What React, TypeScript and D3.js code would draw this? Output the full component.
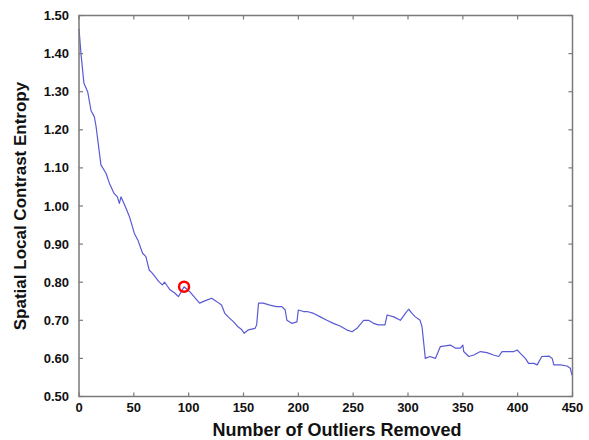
import React from "react";
import * as d3 from "d3";

const xValues = [0, 1.8, 4.5, 7.9, 11, 14, 15.5, 20, 24.6, 27.7, 32, 35, 36.8, 38.3, 42.9, 46, 50.5, 53.6, 58, 61, 64, 67, 73, 76, 78, 81, 83, 87.6, 90.6, 95.8, 101, 106, 110, 113, 116.5, 121, 125.7, 130, 133, 136, 141, 145, 148.5, 150.6, 154.5, 160.6, 162, 163.7, 168, 174, 180, 185, 188, 189.6, 194, 198.7, 200, 204.7, 208, 214, 220, 226, 232, 238, 244, 249, 253.5, 259.5, 264, 268.6, 273, 279, 281, 287, 293, 297.6, 300.6, 303.7, 306.7, 311, 312.8, 315.8, 320, 325, 329.5, 334, 338.6, 343, 347.8, 350, 350.8, 355.4, 360, 366, 372, 378, 382.7, 385.8, 391.9, 396.5, 399.5, 402.5, 407, 410, 414.7, 417.8, 422, 428.4, 431.5, 433, 439, 445, 448, 449.5];
const yValues = [1.465, 1.40, 1.322, 1.30, 1.25, 1.234, 1.21, 1.108, 1.086, 1.06, 1.033, 1.024, 1.007, 1.024, 0.994, 0.972, 0.928, 0.911, 0.876, 0.867, 0.832, 0.823, 0.801, 0.793, 0.80, 0.788, 0.78, 0.771, 0.762, 0.788, 0.775, 0.758, 0.745, 0.749, 0.753, 0.758, 0.749, 0.74, 0.718, 0.709, 0.696, 0.683, 0.675, 0.666, 0.675, 0.679, 0.688, 0.745, 0.745, 0.74, 0.736, 0.736, 0.727, 0.70, 0.692, 0.696, 0.727, 0.723, 0.723, 0.718, 0.709, 0.70, 0.692, 0.685, 0.675, 0.670, 0.679, 0.70, 0.70, 0.692, 0.688, 0.688, 0.714, 0.709, 0.70, 0.718, 0.729, 0.718, 0.709, 0.70, 0.683, 0.60, 0.605, 0.60, 0.631, 0.633, 0.635, 0.627, 0.627, 0.635, 0.618, 0.605, 0.609, 0.618, 0.615, 0.609, 0.605, 0.618, 0.618, 0.618, 0.622, 0.613, 0.60, 0.587, 0.587, 0.583, 0.605, 0.606, 0.60, 0.583, 0.583, 0.580, 0.574, 0.556];
const markerX = [95.8];
const markerY = [0.788];
const xTicks = [0, 50, 100, 150, 200, 250, 300, 350, 400, 450];
const yTicks = [0.5, 0.6, 0.7, 0.8, 0.9, 1.0, 1.1, 1.2, 1.3, 1.4, 1.5];
const xLabel = "Number of Outliers Removed";
const yLabel = "Spatial Local Contrast Entropy";

export default function App() {
  const W = 589, H = 440;
  const L = 79, R = 572.5, T = 15.5, B = 396.5;
  const x = d3.scaleLinear().domain([0, 450]).range([L, R]);
  const y = d3.scaleLinear().domain([0.5, 1.5]).range([B, T]);
  const pts = xValues.map((v, i) => [v, yValues[i]] as [number, number]);
  const line = d3.line<[number, number]>().x(d => x(d[0])).y(d => y(d[1]))(pts) || "";
  const axisColor = "#7a7a7a";
  const font = "'Liberation Sans', Arial, sans-serif";
  const tl = 4;
  return (
    <svg width={W} height={H} style={{ position: "absolute", left: 0, top: 0, background: "#fff" }} fontFamily={font}>
      <rect x={0} y={0} width={W} height={H} fill="#fff" />
      <path d={line} fill="none" stroke="#5a5ad6" strokeWidth={1.2} strokeLinejoin="round" />
      {markerX.map((mx, i) => (
        <circle key={i} cx={x(mx)} cy={y(markerY[i])} r={5} fill="none" stroke="#ff0000" strokeWidth={2.5} />
      ))}
      <rect x={L} y={T} width={R - L} height={B - T} fill="none" stroke={axisColor} strokeWidth={1.5} />
      {xTicks.map(t => (
        <g key={"x" + t}>
          <line x1={x(t)} x2={x(t)} y1={B} y2={B - tl} stroke={axisColor} strokeWidth={1.2} />
          <line x1={x(t)} x2={x(t)} y1={T} y2={T + tl} stroke={axisColor} strokeWidth={1.2} />
          <text x={x(t)} y={412} textAnchor="middle" fontSize={13} fontWeight="bold" fill="#111">{t}</text>
        </g>
      ))}
      {yTicks.map(t => (
        <g key={"y" + t}>
          <line x1={L} x2={L + tl} y1={y(t)} y2={y(t)} stroke={axisColor} strokeWidth={1.2} />
          <line x1={R} x2={R - tl} y1={y(t)} y2={y(t)} stroke={axisColor} strokeWidth={1.2} />
          <text x={69} y={y(t) + 4.5} textAnchor="end" fontSize={13} fontWeight="bold" fill="#111">{t.toFixed(2)}</text>
        </g>
      ))}
      <text x={337} y={436} textAnchor="middle" fontSize={18} fontWeight="bold" fill="#111">{xLabel}</text>
      <text transform={`translate(26,${(T + B) / 2}) rotate(-90)`} textAnchor="middle" fontSize={17} fontWeight="bold" fill="#111">{yLabel}</text>
    </svg>
  );
}
